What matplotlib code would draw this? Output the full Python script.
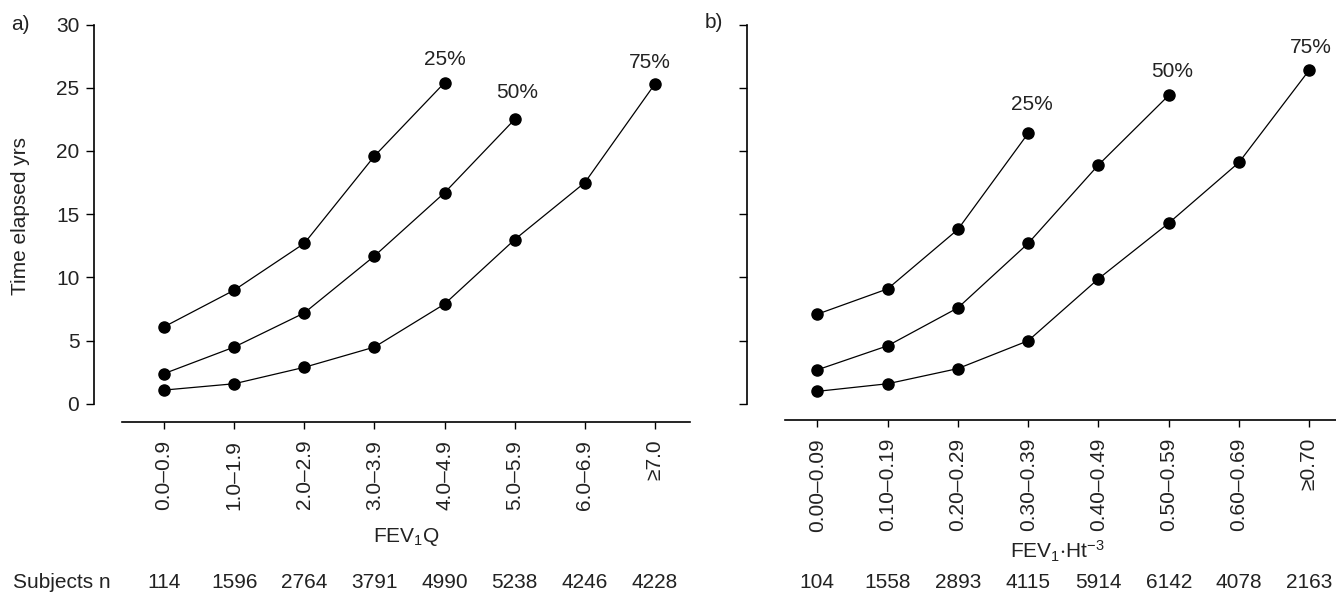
import matplotlib
matplotlib.use("Agg")
import matplotlib.pyplot as plt
import matplotlib.transforms as mtransforms

plt.rcParams['font.family'] = ['Liberation Sans', 'DejaVu Sans']
plt.rcParams['mathtext.fontset'] = 'custom'
plt.rcParams['mathtext.rm'] = 'Liberation Sans'
plt.rcParams['mathtext.it'] = 'Liberation Sans'
plt.rcParams['mathtext.default'] = 'regular'

TXT = '#222222'
FS = 15

# Panel a: FEV1Q categories
cats_a = ["0.0\u20130.9", "1.0\u20131.9", "2.0\u20132.9", "3.0\u20133.9",
          "4.0\u20134.9", "5.0\u20135.9", "6.0\u20136.9", "\u22657.0"]
n_a = [114, 1596, 2764, 3791, 4990, 5238, 4246, 4228]
a_p25 = [6.1, 9.0, 12.7, 19.6, 25.4]
a_p50 = [2.4, 4.5, 7.2, 11.7, 16.7, 22.5]
a_p75 = [1.1, 1.6, 2.9, 4.5, 7.9, 13.0, 17.5, 25.3]

# Panel b: FEV1/Ht^3 categories
cats_b = ["0.00\u20130.09", "0.10\u20130.19", "0.20\u20130.29", "0.30\u20130.39",
          "0.40\u20130.49", "0.50\u20130.59", "0.60\u20130.69", "\u22650.70"]
n_b = [104, 1558, 2893, 4115, 5914, 6142, 4078, 2163]
b_p25 = [7.1, 9.1, 13.8, 21.4]
b_p50 = [2.7, 4.6, 7.6, 12.7, 18.9, 24.4]
b_p75 = [1.0, 1.6, 2.8, 5.0, 9.9, 14.3, 19.1, 26.4]

# label positions (x index, y value) for percentile tags
tags_a = {"25%": (4.0, 27.2), "50%": (5.03, 24.6), "75%": (6.92, 27.0)}
tags_b = {"25%": (3.05, 23.7), "50%": (5.05, 26.3), "75%": (7.02, 28.2)}

W, H = 1336, 592
fig = plt.figure(figsize=(W / 100, H / 100), dpi=100)

def px_axes(left, right, bottom, top):
    return fig.add_axes([left / W, 1 - bottom / H, (right - left) / W, (bottom - top) / H])

ax_a = px_axes(122, 690, 421.7, 24.5)
ax_b = px_axes(785, 1336, 420, 24.5)


def draw_panel(ax, cats, series, tags, ylo, xlim, spine_off, show_ylabels):
    for s in series:
        ax.plot(range(len(s)), s, color='black', lw=0.9, marker='o',
                markersize=8, markerfacecolor='black', markeredgecolor='black',
                clip_on=False)
    for t, (x, y) in tags.items():
        ax.text(x, y, t, ha='center', va='center', fontsize=FS, color=TXT)
    ax.set_xlim(*xlim)
    ax.set_ylim(ylo, 30)
    ax.set_xticks(range(len(cats)))
    ax.set_xticklabels(cats, rotation=90, fontsize=FS, color=TXT)
    ax.set_yticks([0, 5, 10, 15, 20, 25, 30])
    if not show_ylabels:
        ax.set_yticklabels([])
    else:
        ax.tick_params(axis='y', labelsize=FS, labelcolor=TXT, pad=5)
    ax.tick_params(axis='x', length=5, width=1, pad=8, direction='out')
    ax.tick_params(axis='y', length=5.5, width=1, direction='out')
    ax.spines['top'].set_visible(False)
    ax.spines['right'].set_visible(False)
    ax.spines['left'].set_position(('outward', spine_off))
    ax.spines['left'].set_bounds(0, 30)
    for sp in ('left', 'bottom'):
        ax.spines[sp].set_linewidth(1.2)


draw_panel(ax_a, cats_a, [a_p25, a_p50, a_p75], tags_a, -1.4, (-0.6, 7.5), 20.2, True)
draw_panel(ax_b, cats_b, [b_p25, b_p50, b_p75], tags_b, -1.265, (-0.46, 7.38), 27.6, False)

# axis titles
ax_a.text(0.5, (421.7 - 537) / 397.2, r"FEV$_1$Q", transform=ax_a.transAxes,
          ha='center', va='center', fontsize=FS, color=TXT)
ax_b.text(0.495, (420 - 551) / 395.5, r"FEV$_1$$\cdot$Ht$^{-3}$", transform=ax_b.transAxes,
          ha='center', va='center', fontsize=FS, color=TXT)

# subject counts under each category
tr_a = mtransforms.blended_transform_factory(ax_a.transData, ax_a.transAxes)
for i, n in enumerate(n_a):
    ax_a.text(i, (421.7 - 582) / 397.2, str(n), transform=tr_a,
              ha='center', va='center', fontsize=FS, color=TXT)
tr_b = mtransforms.blended_transform_factory(ax_b.transData, ax_b.transAxes)
for i, n in enumerate(n_b):
    ax_b.text(i, (420 - 582) / 395.5, str(n), transform=tr_b,
              ha='center', va='center', fontsize=FS, color=TXT)

fig.text(13 / W, 1 - 582 / H, "Subjects n", ha='left', va='center', fontsize=FS, color=TXT)
fig.text(21 / W, 1 - 216 / H, "Time elapsed yrs", rotation=90, ha='center', va='center',
         fontsize=FS, color=TXT)
fig.text(20 / W, 1 - 24 / H, "a)", ha='center', va='center', fontsize=FS, color=TXT)
fig.text(714 / W, 1 - 23 / H, "b)", ha='center', va='center', fontsize=FS, color=TXT)

fig.savefig("out.png", dpi=100)
